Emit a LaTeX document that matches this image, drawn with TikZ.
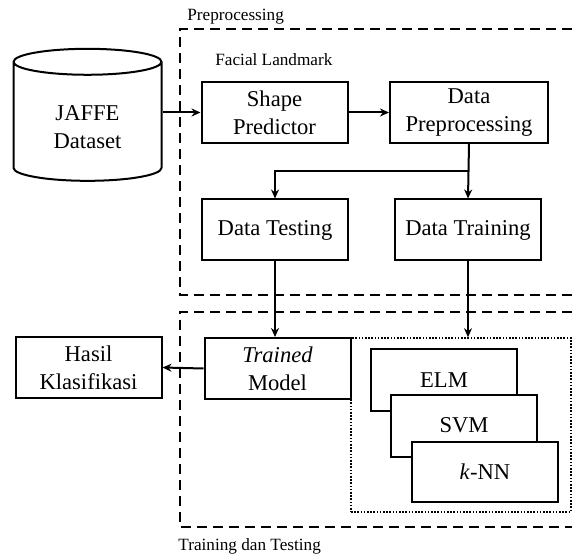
\documentclass[tikz,border=0pt]{standalone}
\usepackage{fontspec}
\setmainfont{Liberation Serif}
\usetikzlibrary{positioning,shapes.geometric,arrows.meta,calc}

\tikzset{
  block/.style={draw, line width=1pt, align=center, fill=white,
    minimum width=73pt, minimum height=30.5pt, inner sep=2pt,
    font=\fontsize{11.3}{14}\selectfont},
  stage/.style={draw, line width=1pt, dash pattern=on 5pt off 3pt},
  caption/.style={font=\fontsize{8.6}{10}\selectfont, anchor=west, inner sep=0pt},
  flow/.style={-{Stealth[length=4.5pt,width=4pt]}, line width=1pt},
}

\begin{document}
\begin{tikzpicture}[x=0.5pt, y=-0.5pt]
  \useasboundingbox (0,0) rectangle (572,555);

  % Dashed stages
  \draw[stage] (572,29) -- (180,29) -- (180,295) -- (572,295);
  \draw[stage] (572,312) -- (180,312) -- (180,527) -- (572,527);
  \node[caption] (lblprep) at (187,17) {Preprocessing};
  \node[caption] (lblface) at (215,60) {Facial Landmark};
  \node[caption] (lbltrain) at (178,546) {Training dan Testing};

  % Dataset
  \node[cylinder, shape border rotate=90, draw, line width=1pt, aspect=0.32,
    minimum width=74pt, minimum height=66pt, align=center,
    text height=27pt, text depth=2.5pt,
    font=\fontsize{11.3}{14}\selectfont] (jaffe) at (87.5,124.5) {JAFFE\\Dataset};

  % Boxes
  \node[block] (shape) at (274.5,112.5) {Shape\\Predictor};
  \node[block, minimum width=79pt] (prep) at (469,112.5) {Data\\Preprocessing};
  \node[block] (test) at (275,230) {Data Testing};
  \node[block] (train) at (468,230) {Data Training};
  \node[block] (model) at (277.5,368.5) {\textit{Trained}\\Model};
  \node[block] (hasil) at (88.5,367.5) {Hasil\\Klasifikasi};

  % Classifiers
  \node[draw, line width=0.8pt, dash pattern=on 0.8pt off 0.8pt,
    minimum width=110pt, minimum height=87pt] (pool) at (461,425) {};
  \node[block, minimum height=31pt] (elm) at (444,380) {ELM};
  \node[block, minimum height=31pt] (svm) at (464,425.5) {SVM};
  \node[block, minimum height=30pt] (knn) at (485,472) {\textit{k}-NN};

  % Arrows
  \coordinate (split) at ($(prep.south)!0.5!(train.north)$);
  \draw[flow] (jaffe.east |- shape.west) -- (shape.west);
  \draw[flow] (shape.east) -- (prep.west);
  \draw[flow] (prep.south) -- (train.north);
  \draw[flow] (split) -| (test.north);
  \draw[flow] (test.south) -- (test.south |- model.north);
  \draw[flow] (train.south) -- (train.south |- pool.north);
  \draw[flow] (model.west) -- (hasil.east);
\end{tikzpicture}
\end{document}
